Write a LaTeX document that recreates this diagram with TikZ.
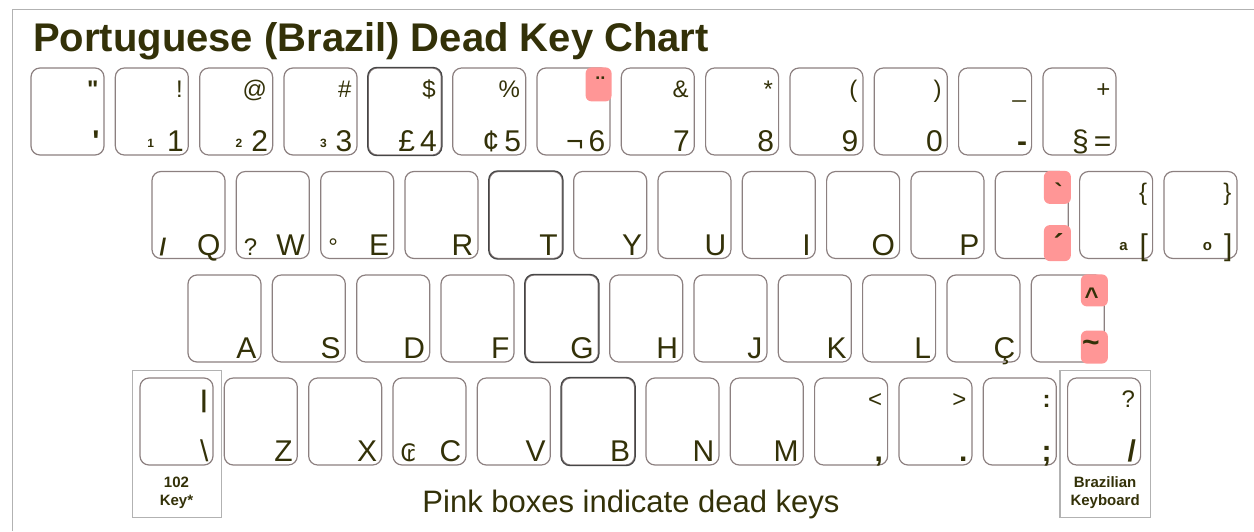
\documentclass[tikz,border=0pt]{standalone}
\usepackage{fontspec}
\setmainfont{Liberation Sans}[Ligatures=TeXOff]
\newfontfamily\symfont{DejaVu Sans}
\usetikzlibrary{calc}

\definecolor{ink}{RGB}{51,49,8}
\definecolor{keyline}{RGB}{140,128,128}
\definecolor{keydark}{RGB}{70,70,70}
\definecolor{deadpink}{RGB}{255,150,150}
\definecolor{framegray}{RGB}{178,178,178}

\newcommand\fsz[1]{\fontsize{#1}{#1}\selectfont}
\newcommand\mini[1]{\raisebox{4pt}{\fsz{12}\bfseries #1}}
\newcommand\ordsign[1]{\raisebox{5pt}{\fsz{15}\bfseries #1}}

\begin{document}
\begin{tikzpicture}[x=1pt, y=-1pt,
  key/.style={draw=keyline, line width=1.2pt, rounded corners=9pt,
    minimum width=73pt, minimum height=87pt, inner sep=0pt},
  keyedge/.style={draw=keydark, line width=1.2pt, rounded corners=9pt},
  toplab/.style={anchor=base east, inner sep=0pt, xshift=-6pt, yshift=-30pt,
    text=ink, font=\fsz{24}},
  botlab/.style={anchor=base east, inner sep=0pt, xshift=-5pt, yshift=4pt,
    text=ink, font=\fsz{30}},
  leftlab/.style={anchor=base west, inner sep=0pt, xshift=8pt, yshift=4pt,
    text=ink, font=\fsz{24}},
  dead/.style={fill=deadpink, rounded corners=6pt},
  boxline/.style={draw=framegray, line width=1.2pt},
  note/.style={font=\fontsize{15}{18}\selectfont\bfseries, text=ink,
    align=center, inner sep=0pt}
]
\useasboundingbox (0,0) rectangle (1254,531);

% --- frame and title ---
\draw[framegray, line width=1pt] (12,531) -- (12,9) -- (1254,9);
\node[anchor=base west, inner sep=0pt, text=ink, font=\fsz{40}\bfseries]
  (title) at (33,51) {Portuguese (Brazil) Dead Key Chart};

% --- key caps, row by row ---
\foreach \i in {0,...,12}
  \node[key] (a\i) at (67.5+84.33*\i, 111.5) {};
\foreach \i in {0,...,12}
  \node[key] (b\i) at (188.5+84.33*\i, 215) {};
\foreach \i in {0,...,10}
  \node[key] (c\i) at (224.5+84.33*\i, 318.5) {};
\foreach \i in {0,...,11}
  \node[key] (d\i) at (176.5+84.33*\i, 421.5) {};

% darker caps: 4, T, G, B
\foreach \k in {a4,b4,c4,d5}
  \draw[keyedge] (\k.north west) rectangle (\k.south east);

% boxes round the two special keys
\draw[boxline] ($(d0.north west)+(-7,-7)$) rectangle ($(d0.south east)+(8,52)$);
\draw[boxline] ($(d11.north west)+(-7,-7)$) rectangle ($(d11.south east)+(9,52)$);

% --- dead keys (pink) ---
\fill[dead] ($(a6.north east)+(-25,0)$) rectangle ++(26,34);
\fill[dead] ($(b10.north east)+(-25,0)$) rectangle ++(27,33);
\fill[dead] ($(b10.south east)+(-25,-34)$) rectangle ++(27,36);
\fill[dead] ($(c10.north east)+(-24,0)$) rectangle ++(27,32);
\fill[dead] ($(c10.south east)+(-24,-32)$) rectangle ++(27,33);

% --- row 1 labels ---
\foreach \i/\t in {0/{\bfseries\symbol{34}}, 1/!, 2/@, 3/\#, 4/\$, 5/\%,
    6/{\bfseries\raisebox{4pt}{¨}}, 7/\&, 8/*, 9/{(}, 10/{)}, 11/\symbol{95}, 12/+}
  \node[toplab] (a\i-t) at (a\i.north east) {\t};
\foreach \i/\b in {0/{\bfseries\symbol{39}}, 1/{\mini{1}\hspace{13pt}1},
    2/{\mini{2}\hspace{9pt}2}, 3/{\mini{3}\hspace{9pt}3}, 4/{£\,4}, 5/{¢\,5},
    6/{¬\,6}, 7/7, 8/8, 9/9, 10/0, 11/{\bfseries-}, 12/{§\,=}}
  \node[botlab] (a\i-b) at (a\i.south east) {\b};

% --- row 2 labels ---
\foreach \i/\t in {10/{\bfseries\symbol{96}}, 11/\{, 12/\}}
  \node[toplab] (b\i-t) at (b\i.north east) {\t};
\foreach \i/\b in {0/Q, 1/W, 2/E, 3/R, 4/T, 5/Y, 6/U, 7/I, 8/O, 9/P,
    10/{\bfseries ´}, 11/{\ordsign{a}\hspace{12pt}[}, 12/{\ordsign{o}\hspace{12pt}]}}
  \node[botlab] (b\i-b) at (b\i.south east) {\b};
\foreach \i/\l in {0/{\bfseries/}, 1/?, 2/°}
  \node[leftlab] (b\i-l) at (b\i.south west) {\l};

% --- row 3 labels ---
\foreach \i/\b in {0/A, 1/S, 2/D, 3/F, 4/G, 5/H, 6/J, 7/K, 8/L, 9/Ç,
    10/{\bfseries\raisebox{6pt}{\symbol{126}}}}
  \node[botlab] (c\i-b) at (c\i.south east) {\b};
\node[toplab] (c10-t) at (c10.north east) {\bfseries\symbol{94}};

% --- row 4 labels ---
\foreach \i/\t in {0/{\bfseries\symbol{124}}, 8/<, 9/>, 10/{\bfseries:}, 11/?}
  \node[toplab] (d\i-t) at (d\i.north east) {\t};
\foreach \i/\b in {0/\textbackslash, 1/Z, 2/X, 3/C, 4/V, 5/B, 6/N, 7/M,
    8/{\bfseries,}, 9/{\bfseries.}, 10/{\bfseries;}, 11/{\bfseries/}}
  \node[botlab] (d\i-b) at (d\i.south east) {\b};
\node[leftlab] (d3-l) at (d3.south west) {\symfont ₢};

% --- notes ---
\node[note] (n102) at ($(d0.south)+(0,27)$) {102\\Key*};
\node[note] (nbr) at ($(d11.south)+(1,27)$) {Brazilian\\Keyboard};
\node[anchor=base, inner sep=0pt, text=ink, font=\fsz{31}]
  (legend) at (631,512) {Pink boxes indicate dead keys};

\end{tikzpicture}
\end{document}
